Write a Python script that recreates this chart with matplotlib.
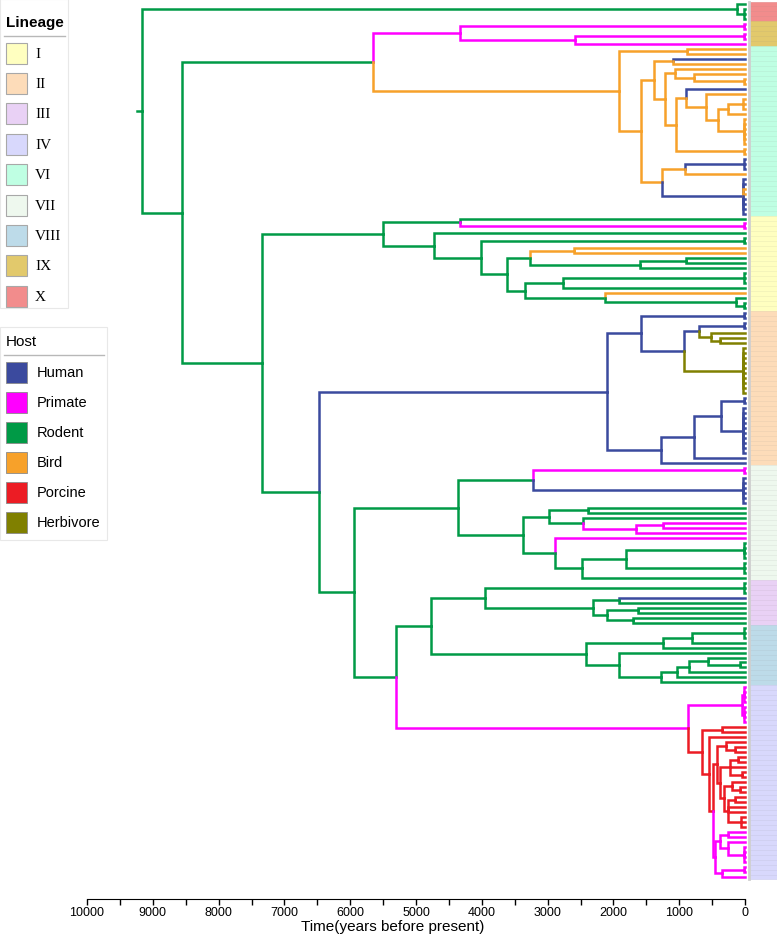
import matplotlib.pyplot as plt
from matplotlib.patches import Rectangle

plt.rcParams['font.family'] = ['Liberation Sans', 'DejaVu Sans']

# host colours used on branches
host_codes = ['H', 'P', 'R', 'B', 'S', 'V']
host_names = ['Human', 'Primate', 'Rodent', 'Bird', 'Porcine', 'Herbivore']
host_hex = ['#3b4a9e', '#ff00ff', '#009a46', '#f7a12a', '#ec1c24', '#808000']

# lineages, in tree order (top to bottom) and in legend order
lineage_order = ['X', 'IX', 'VI', 'I', 'II', 'VII', 'III', 'VIII', 'IV']
legend_lineages = ['I', 'II', 'III', 'IV', 'VI', 'VII', 'VIII', 'IX', 'X']
lineage_hex = {'I': '#ffffc0', 'II': '#fddcb9', 'III': '#e9d1f5', 'IV': '#d8d8fc',
               'VI': '#bfffe3', 'VII': '#eef8ee', 'VIII': '#bddbe9',
               'IX': '#e2c96c', 'X': '#f28c8c'}

# clades: (children)HOST:age in years before present, a bare letter is a tip
clade_X = "(R,(R,R,R)R:10)R:121"
clade_IX = "((P,P)P:15,((P,P)P:15,P)P:2579)P:4339"

vi_a = "(B,B)B:880"
vi_b = "((H,B)B:1092,((B,(B,(B,B)B:15)B:774)B:1062,((H,(B,(((B,B,B)B:25,B)B:258,(B,B,B,B,B,B)B:15)B:410)B:592)B:895,(B,B)B:15)B:1047)B:1214)B:1380"
vi_c = "(((H,H,H)H:20,B)B:910,(H,H,B,B,H,H,H,H)H:30)B:1259"
clade_VI = f"({vi_a},({vi_b},{vi_c})B:1578)B:1911"

i_top = "(R,(P,P)P:15)R:4339"
i_mid = "((B,B)B:2594,((R,R)R:895,R)R:1593)R:3262"
i_low = "(((R,R,R)R:20,R)R:2761,(B,(R,(R,R)R:15)R:137)R:2124)R:3337"
clade_I = f"({i_top},(R,((R,R)R:15,({i_mid},{i_low})R:3610)R:4005)R:4733)R:5507"

ii_top = "((H,H)H:15,(((H,H)H:15,(V,(V,V)V:379)V:516)H:698,(V,V,V,V,V,V,V,V,V,V)V:30)H:925)H:1578"
ii_low = "((((H,H)H:15,(H,H,H,H,H,H,H,H,H,H)H:25)H:364,H)H:774,H)H:1274"
clade_II = f"({ii_top},{ii_low})H:2093"

vii_a = "((P,P)P:15,(H,H,H,H,H,H)H:25)R:3216"
vii_b = "((R,R)R:2382,(R,((P,P)P:1244,P)P:1653)R:2457)R:2973"
vii_c = "(P,(((R,R,R,R)R:20,(R,R,R)R:20)R:1805,R)R:2473)R:2882"
clade_VII = f"({vii_a},({vii_b},{vii_c})R:3368)R:4369"

clade_III = "((R,R,R)R:20,((H,R)R:1911,((R,R)R:1623,(R,R)R:1699)R:2093)R:2306)R:3944"
clade_VIII = "((((R,R,R)R:20,R)R:804,R)R:1244,(R,((((R,(R,R)R:76)R:561,R)R:850,R)R:1032,R)R:1274)R:1911)R:2412"

iv_red = "((S,(S,S)S:150)S:288,(((S,S)S:100,S,(S,S)S:45)S:228,((S,(S,S)S:75)S:197,((S,S)S:150,S,S,(S,S,S)S:60)S:258)S:319)S:379)S:425"
iv_mag = "(((P,P)P:258,(P,(P,P,P,P)P:15)P:258)P:379,((P,P)P:15,P)P:349)P:455"
clade_IV = f"(((P,P,P,P)P:20,(P,P,P,P)P:10)P:46,((S,S)S:349,(S,({iv_red},{iv_mag})S:485)S:546)S:652)P:865"

backbone = ("({X},(({IX},{VI})R:5658,({I},({II},({VII},(({III},{VIII})R:4778,{IV})R:5310)"
            "R:5947)R:6478)R:7342)R:8556)R:9163")
root_stem_age = 9240

clades = {'X': clade_X, 'IX': clade_IX, 'VI': clade_VI, 'I': clade_I, 'II': clade_II,
          'VII': clade_VII, 'III': clade_III, 'VIII': clade_VIII, 'IV': clade_IV}


def parse(s):
    pos = 0

    def node():
        nonlocal pos
        if s[pos] == '(':
            pos += 1
            kids = [node()]
            while s[pos] == ',':
                pos += 1
                kids.append(node())
            pos += 1
            host = s[pos]
            pos += 2
            start = pos
            while pos < len(s) and s[pos].isdigit():
                pos += 1
            return {'host': host, 'age': float(s[start:pos]), 'kids': kids}
        host = s[pos]
        pos += 1
        return {'host': host, 'age': 0.0, 'kids': []}
    return node()


def count_tips(n):
    return 1 if not n['kids'] else sum(count_tips(k) for k in n['kids'])


tree = parse(backbone.format(**clades))
lineage_counts = [count_tips(parse(clades[name])) for name in lineage_order]

tips = []


def layout(n):
    if not n['kids']:
        n['y'] = len(tips)
        tips.append(n)
        return
    for k in n['kids']:
        layout(k)
    n['y'] = (n['kids'][0]['y'] + n['kids'][-1]['y']) / 2


layout(tree)
ntip = len(tips)
colors = dict(zip(host_codes, host_hex))

W, H = 777, 937
fig = plt.figure(figsize=(W / 100, H / 100), dpi=100)
ax = fig.add_axes([87 / W, 37 / H, (W - 87) / W, 900 / H])

LW = 1.8


def draw(n):
    for k in sorted(n['kids'], key=lambda c: -abs(c['y'] - n['y'])):
        ax.plot([n['age'], n['age'], k['age']], [n['y'], k['y'], k['y']],
                color=colors[k['host']], lw=LW, solid_joinstyle='miter',
                solid_capstyle='projecting')
        draw(k)


ax.plot([root_stem_age, tree['age']], [tree['y'], tree['y']],
        color=colors[tree['host']], lw=LW)
draw(tree)

# lineage colour strip
start = 0
for name, cnt in zip(lineage_order, lineage_counts):
    fc = lineage_hex[name]
    r, g, b = [int(fc[j:j + 2], 16) / 255 for j in (1, 3, 5)]
    for i in range(start, start + cnt):
        ax.add_patch(Rectangle((-490, i - 0.5), 414, 1, facecolor=fc,
                               edgecolor=(r * 0.94, g * 0.94, b * 0.94), lw=0.4))
    start += cnt
ax.plot([-53, -53], [-0.5, ntip - 0.5], color='#cfcfcf', lw=2)

# axes
sp = (878 - 5) / (ntip - 1)
ax.set_ylim(895 / sp, -5 / sp)
ax.set_xlim(10000, -486)
for side in ['left', 'right', 'top']:
    ax.spines[side].set_visible(False)
ax.spines['bottom'].set_bounds(0, 10000)
ax.set_yticks([])
ax.set_xticks(range(0, 10001, 1000))
ax.set_xticks(range(500, 10000, 1000), minor=True)
ax.tick_params(axis='x', which='both', length=4, width=1, pad=1, labelsize=9)

# legends and axis title drawn in pixel space
lax = fig.add_axes([0, 0, 1, 1])
lax.set_xlim(0, W)
lax.set_ylim(H, 0)
lax.axis('off')

lax.text(393, 920.5, 'Time(years before present)', fontsize=11, ha='center', va='top')

lax.add_patch(Rectangle((0, 0), 68, 309, fc='white', ec='#e8e8e8', lw=0.8))
lax.text(6, 23, 'Lineage', fontsize=11, fontweight='bold', va='center')
lax.plot([4, 65], [37, 37], color='#b8b8b8', lw=1)
for i, name in enumerate(legend_lineages):
    yc = 54 + i * 30.4
    lax.add_patch(Rectangle((6, yc - 10.5), 21, 21, fc=lineage_hex[name], ec='#a8a8a8', lw=0.8))
    lax.text(35, yc, name, fontsize=11, family=['Liberation Serif', 'DejaVu Serif'], va='center')

lax.add_patch(Rectangle((0, 328), 107, 213, fc='white', ec='#e8e8e8', lw=0.8))
lax.text(6, 342, 'Host', fontsize=11, va='center')
lax.plot([4, 104], [356, 356], color='#b8b8b8', lw=1)
for i, (name, c) in enumerate(zip(host_names, host_hex)):
    yc = 373 + i * 30
    lax.add_patch(Rectangle((6, yc - 10.5), 21, 21, fc=c, ec='#8a8a8a', lw=0.6))
    lax.text(37, yc, name, fontsize=10.5, va='center')

fig.savefig('out.png', dpi=100)
